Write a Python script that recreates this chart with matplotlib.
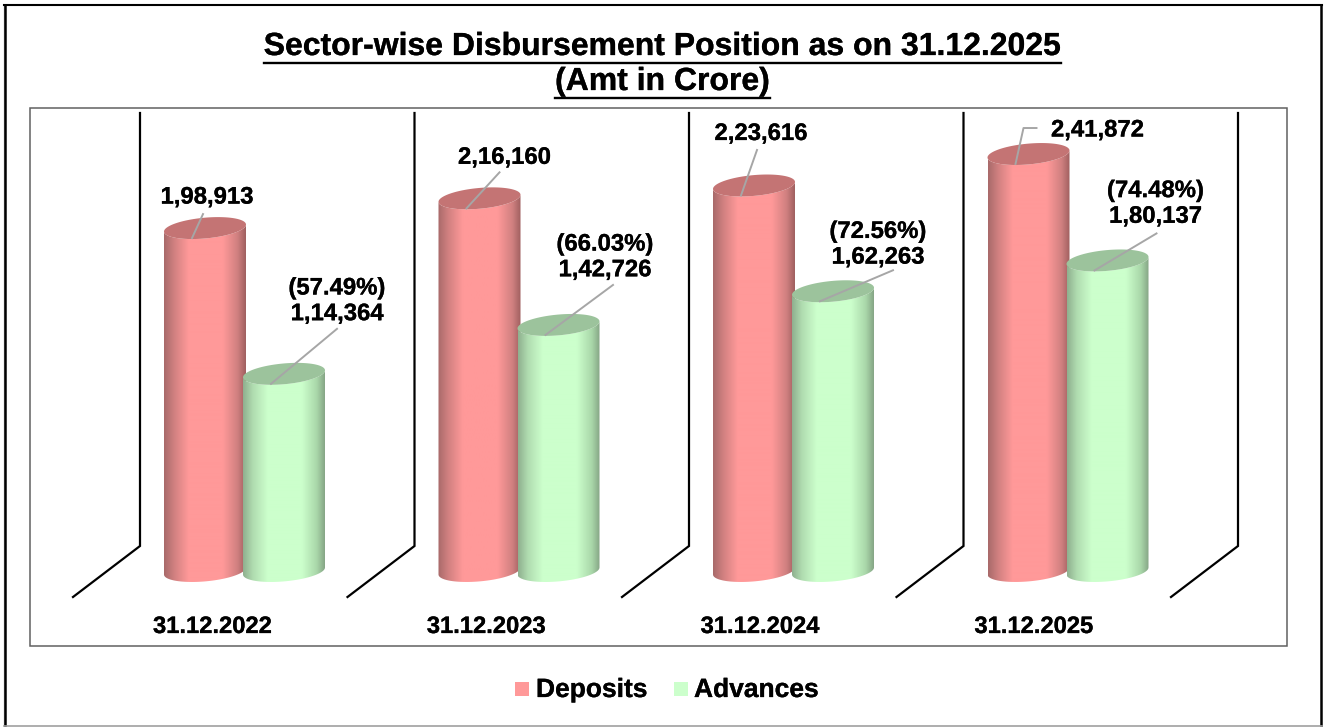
import numpy as np
import matplotlib
matplotlib.use("Agg")
import matplotlib.pyplot as plt
import matplotlib.patheffects as pe
from matplotlib.patches import Polygon, Rectangle
from matplotlib.lines import Line2D

categories = ["31.12.2022", "31.12.2023", "31.12.2024", "31.12.2025"]
deposits = [198913, 216160, 223616, 241872]
advances = [114364, 142726, 162263, 180137]
shares = ["57.49%", "66.03%", "72.56%", "74.48%"]
title_lines = ["Sector-wise Disbursement Position as on 31.12.2025", "(Amt in Crore)"]

W, H = 1328, 727
plt.rcParams["font.family"] = ["Liberation Sans", "DejaVu Sans"]
plt.rcParams["font.weight"] = "bold"
HEAVY = [pe.withStroke(linewidth=0.2, foreground="black")]

fig = plt.figure(figsize=(W / 100, H / 100), dpi=100, facecolor="white")

# overlay in pixel coordinates for frames, title
bg = fig.add_axes([0, 0, 1, 1], zorder=0)
bg.set_xlim(0, W); bg.set_ylim(H, 0); bg.axis("off")

# data axes: wall-to-wall x range, value 0 at the floor centre
PX_PER_UNIT = 0.001724
BASE_PX = 571
X0, X1 = 140, 1238
TOP_PX = 113
ymax = (BASE_PX - TOP_PX) / PX_PER_UNIT
ax = fig.add_axes([X0 / W, 1 - BASE_PX / H, (X1 - X0) / W, (BASE_PX - TOP_PX) / H], zorder=1)
ax.set_xlim(0, len(categories)); ax.set_ylim(0, ymax)
ax.axis("off"); ax.patch.set_alpha(0)
PX_X = (X1 - X0) / len(categories)


def px(dx, dy):
    """Pixel offsets (dy up is negative) to data offsets."""
    return dx / PX_X, -dy / PX_PER_UNIT


A, B, S = 41.0, 10.4, 3.5   # ellipse half width, half height, tilt (pixels)
DEP_OFF, ADV_OFF = (205 - X0) / PX_X, (284 - X0) / PX_X


def ell(cx, cy, t):
    dx = A * np.cos(t)
    dy = B * np.sin(t) - S * np.cos(t)
    ox, oy = px(dx, dy)
    return np.column_stack([cx + ox, cy + oy])


def ramp(stops, n=164):
    pos = [p for p, _ in stops]
    cols = np.array([matplotlib.colors.to_rgb(c) for _, c in stops])
    xs = np.linspace(0, 1, n)
    return np.stack([np.interp(xs, pos, cols[:, k]) for k in range(3)], axis=1)[None, :, :]


dep_ramp = ramp([(0, "#a86a6a"), (0.12, "#d08080"), (0.30, "#ff9999"), (0.72, "#ff9999"), (0.90, "#d08080"), (1, "#a06060")])
adv_ramp = ramp([(0, "#8fb08f"), (0.12, "#b0dcb0"), (0.30, "#ccffcc"), (0.72, "#ccffcc"), (0.90, "#aad8aa"), (1, "#86a686")])
DEP_TOP, ADV_TOP = "#c47474", "#9cc39c"


def cylinder(cx, value, grad, top_col, z):
    t_front = np.linspace(np.pi, 0, 60)   # left to right through the front
    t_back = np.linspace(0, np.pi, 60)
    outline = np.vstack([ell(cx, 0, t_front), ell(cx, value, t_back)])
    poly = Polygon(outline, closed=True, transform=ax.transData, fc="none", ec="none", clip_on=False)
    ax.add_patch(poly)
    hw = px(A, 0)[0]
    _, pad = px(0, -30)
    im = ax.imshow(grad, extent=[cx - hw, cx + hw, -pad, value + pad], aspect="auto",
                   interpolation="bilinear", zorder=z)
    im.set_clip_box(fig.bbox)
    im.set_clip_path(poly)
    cap = Polygon(ell(cx, value, np.linspace(0, 2 * np.pi, 120)), closed=True, fc=top_col, ec="none", zorder=z + 0.1)
    ax.add_patch(cap)


for i in range(len(categories)):
    cylinder(i + DEP_OFF, deposits[i], dep_ramp, DEP_TOP, 3)
    cylinder(i + ADV_OFF, advances[i], adv_ramp, ADV_TOP, 4)
ax.set_xlim(0, len(categories)); ax.set_ylim(0, ymax)

# outer frame
bg.add_line(Line2D([3.5, 3.5], [5, 726], color="#b0b0b0", lw=1.0))
bg.add_line(Line2D([5.3, 5.3], [5, 726], color="black", lw=1.8))
bg.add_line(Line2D([4, 1322], [5, 5], color="black", lw=1.5))
bg.add_line(Line2D([1321, 1321], [5, 726], color="black", lw=1.8))
bg.add_line(Line2D([4, 1322], [726, 726], color="#a0a0a0", lw=1.2))
# inner frame
bg.add_patch(Rectangle((29.5, 107.5), 1257, 538, fc="none", ec="#606060", lw=1.1, zorder=1))

# walls and floor edges
WALL_BOTTOM, FLOOR_X, FLOOR_Y = 546, 67, 597
for k in range(len(categories) + 1):
    x = X0 + k * PX_X
    bg.add_line(Line2D([x, x, x - FLOOR_X], [TOP_PX, WALL_BOTTOM, FLOOR_Y], color="black", lw=1.6, solid_joinstyle="miter"))

# titles with underline
TS = 23.0
r = fig.canvas.get_renderer()
for line, y in zip(title_lines, (47, 82)):
    t = bg.text((263 + 1062) / 2, y, line, fontsize=TS, ha="center", va="center", color="black", path_effects=HEAVY)
    bb = t.get_window_extent(r)
    bg.add_line(Line2D([bb.x0, bb.x1], [y + 16, y + 16], color="black", lw=1.7))

# leader lines and value labels: offsets from each cylinder top centre, in pixels
dep_label = [(2, -31), (25, -41), (7, -52), (69, -24)]
adv_label = [(53, -73), (46.5, -68), (45, -47), (48, -57)]
dep_leader = [[(-2, -14)], [(20, -26)], [(3, -35.5)], [(-5, -26), (8, -26)]]
adv_leader = [[(53, -45)], [(54.5, -40)], [(60, -21)], [(49, -27)]]
START = (-13, 10)
LC = "#a6a6a6"


def indian(v):
    s = f"{v:06d}"
    return f"{s[0]},{s[1:3]},{s[3:]}"


def label_bar(cx, value, text, loff, lead):
    ox, oy = px(*START)
    xs = [cx + ox]; ys = [value + oy]
    for d in lead:
        ox, oy = px(*d)
        xs.append(cx + ox); ys.append(value + oy)
    ax.add_line(Line2D(xs, ys, color=LC, lw=1.4, zorder=6, clip_on=False))
    ox, oy = px(*loff)
    ax.text(cx + ox, value + oy, text, fontsize=17.2, ha="center", va="center",
            linespacing=1.15, zorder=7, color="black", clip_on=False, path_effects=HEAVY)


for i in range(len(categories)):
    label_bar(i + DEP_OFF, deposits[i], indian(deposits[i]), dep_label[i], dep_leader[i])
    label_bar(i + ADV_OFF, advances[i], f"({shares[i]})\n{indian(advances[i])}", adv_label[i], adv_leader[i])

# category labels
for i, c in enumerate(categories):
    bg.text(X0 + i * 273.8 + 72.5, 633, c, fontsize=17.1, ha="center", va="baseline", color="black", path_effects=HEAVY)

# legend
for x, tx, name, col in ((515, 536, "Deposits", "#ff9999"), (674, 694, "Advances", "#ccffcc")):
    bg.add_patch(Rectangle((x, 682), 14, 14, fc=col, ec="none"))
    bg.text(tx, 697, name, fontsize=19, ha="left", va="baseline", color="black", path_effects=HEAVY)

fig.savefig("out.png", dpi=100, facecolor="white")
